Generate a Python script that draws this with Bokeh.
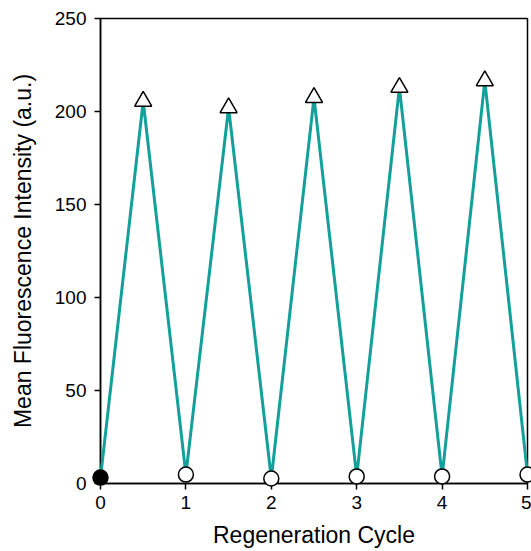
from bokeh.plotting import figure
from bokeh.models import Range1d, FixedTicker
from bokeh.embed import file_html
from bokeh.resources import INLINE

# data
cycle = [0, 0.5, 1, 1.5, 2, 2.5, 3, 3.5, 4, 4.5, 5]
intensity = [3.2, 205.5, 4.8, 202, 2.7, 207.5, 3.8, 213, 3.8, 216.5, 4.8]
tri_x = [0.5, 1.5, 2.5, 3.5, 4.5]
tri_y = [205.5, 202, 207.5, 213, 216.5]
circ_x = [1, 2, 3, 4, 5]
circ_y = [4.8, 2.7, 3.8, 3.8, 4.8]
start_x = [0]
start_y = [3.2]
x_ticks = [0, 1, 2, 3, 4, 5]
y_ticks = [0, 50, 100, 150, 200, 250]

FONT = "Liberation Sans"

p = figure(width=531, height=551, output_backend="svg", toolbar_location=None,
           x_range=Range1d(0, 5), y_range=Range1d(0, 250),
           min_border_left=100, min_border_right=4, min_border_top=18, min_border_bottom=68)
p.grid.visible = False
p.outline_line_color = "black"
p.outline_line_width = 1.5
p.background_fill_color = "white"
p.border_fill_color = "white"

p.line(cycle, intensity, line_color="#13a09a", line_width=3, level="overlay")
p.scatter(circ_x, circ_y, marker="circle", size=15, fill_color="white",
          line_color="black", line_width=1.5, level="overlay")
p.scatter(start_x, start_y, marker="circle", size=15, fill_color="black",
          line_color="black", line_width=1.5, level="overlay")
p.scatter(tri_x, tri_y, marker="triangle", size=17, fill_color="white",
          line_color="black", line_width=1.5, level="overlay")

for ax in (p.xaxis, p.yaxis):
    ax.axis_line_width = 1.5
    ax.major_tick_line_width = 1.5
    ax.major_tick_out = 6
    ax.major_tick_in = 0
    ax.minor_tick_line_color = None
    ax.major_label_text_font = FONT
    ax.major_label_text_font_size = "19px"
    ax.major_label_text_color = "black"
    ax.axis_label_text_font = FONT
    ax.axis_label_text_font_size = "23px"
    ax.axis_label_text_font_style = "normal"
    ax.axis_label_text_color = "black"

p.xaxis.ticker = FixedTicker(ticks=x_ticks)
p.yaxis.ticker = FixedTicker(ticks=y_ticks)
p.xaxis.axis_label = "Regeneration Cycle"
p.yaxis.axis_label = "Mean Fluorescence Intensity (a.u.)"
p.xaxis.major_label_standoff = 6
p.yaxis.major_label_standoff = 8
p.xaxis.axis_label_standoff = 10
p.yaxis.axis_label_standoff = 16

open("out.html", "w").write(file_html(p, INLINE))
